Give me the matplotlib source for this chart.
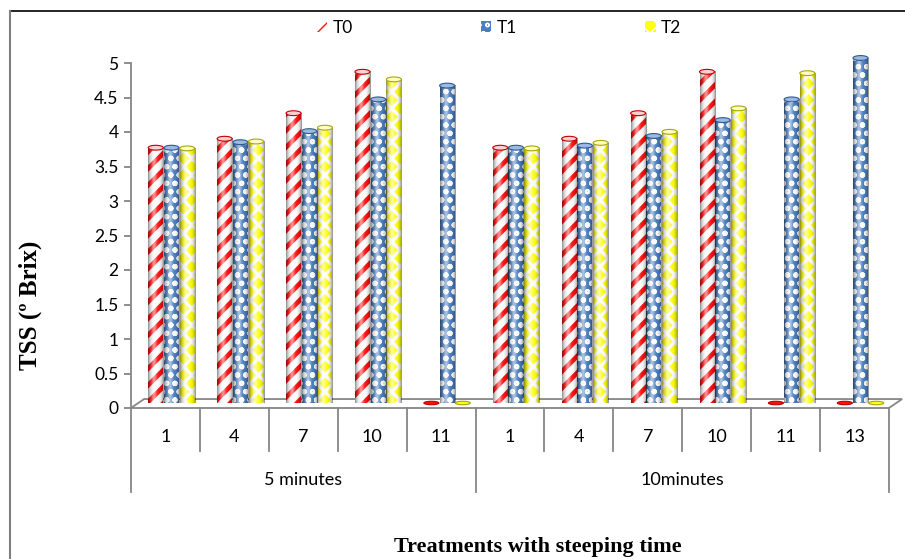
import numpy as np
import matplotlib
matplotlib.use('Agg')
import matplotlib.pyplot as plt
from matplotlib.patches import Ellipse, Patch, Polygon
from matplotlib.lines import Line2D
from matplotlib.transforms import offset_copy, blended_transform_factory

plt.rcParams['font.family'] = ['Lato', 'DejaVu Sans']

# TSS readings per treatment, grouped by steeping time
groups = ['5 minutes', '10minutes']
group_sizes = [5, 6]
days = ['1', '4', '7', '10', '11', '1', '4', '7', '10', '11', '13']
series = ['T0', 'T1', 'T2']
t0 = [3.70, 3.83, 4.20, 4.80, 0.0, 3.70, 3.83, 4.20, 4.80, 0.0, 0.0]
t1 = [3.70, 3.78, 3.94, 4.40, 4.60, 3.70, 3.73, 3.87, 4.10, 4.40, 5.00]
t2 = [3.69, 3.79, 3.99, 4.69, 0.0, 3.69, 3.77, 3.93, 4.27, 4.78, 0.0]
yticks = [0, 0.5, 1, 1.5, 2, 2.5, 3, 3.5, 4, 4.5, 5]

# bar styles: face, hatch colour, hatch, hatch width, top face, top edge
styles = [
    dict(face='white', hcol='#FF1010', hatch='//', hlw=3.4, top='#FFD0D0', tedge='#C00000'),
    dict(face='#4A7EC0', hcol='white', hatch='oo', hlw=1.5, top='#9DB9E0', tedge='#2E5A94'),
    dict(face='#FFFF10', hcol='white', hatch='xx', hlw=2.4, top='#FFFFC0', tedge='#A8A800'),
]

grey = '#868686'
fig = plt.figure(figsize=(9.05, 5.59), dpi=100)
ax = fig.add_axes([131 / 905, 151 / 559, 758 / 905, 345 / 559])
ax.set_xlim(0, 11)
ax.set_ylim(0, 5)

# bars stand a little behind the front edge of the floor
bar_tr = offset_copy(ax.transData, fig=fig, x=6, y=5, units='dots')

# cylinder shading: highlight left of centre, darker rims
xs = np.linspace(0, 1, 40)
hi = 0.55 * np.exp(-((xs - 0.38) / 0.17) ** 2)
dk = 0.45 * np.abs(2 * xs - 1) ** 3
shade = np.zeros((1, len(xs), 4))
tot = np.clip(hi + dk, 1e-6, None)
shade[0, :, 0] = hi / tot
shade[0, :, 1] = hi / tot
shade[0, :, 2] = hi / tot
shade[0, :, 3] = np.clip(hi + dk, 0, 1)

# floor of the 3D plot
floor = Polygon([(0, 0), (11, 0), (11.19, 0.13), (0.19, 0.13)], closed=True,
                facecolor='white', edgecolor=grey, lw=1.3, zorder=1, clip_on=False)
ax.add_patch(floor)

bw = 0.218
offs = [-0.228, 0.0, 0.228]
x = np.arange(len(days)) + 0.5
for vals, st, off in zip([t0, t1, t2], styles, offs):
    with plt.rc_context({'hatch.linewidth': st['hlw']}):
        bars = ax.bar(x + off, vals, width=bw, color=st['face'], edgecolor=st['hcol'],
                      hatch=st['hatch'], lw=0, transform=bar_tr, zorder=3, clip_on=False)
    for b, v in zip(bars, vals):
        if hasattr(b, 'set_hatch_linewidth'):
            b.set_hatch_linewidth(st['hlw'])
        x0 = b.get_x()
        if v > 0:
            ax.imshow(shade, extent=(x0, x0 + bw, 0, v), aspect='auto', transform=bar_tr,
                      interpolation='bilinear', zorder=4, clip_on=False)
        top = Ellipse((x0 + bw / 2, v), bw, 0.07 if v > 0 else 0.05,
                      facecolor=st['top'] if v > 0 else st['hcol'] if st['face'] == 'white' else st['face'],
                      edgecolor=st['tedge'], lw=0.8, transform=bar_tr, zorder=5, clip_on=False)
        ax.add_patch(top)

ax.set_xlim(0, 11)
ax.set_ylim(0, 5)

# value axis
for s in ['top', 'right', 'bottom']:
    ax.spines[s].set_visible(False)
ax.spines['left'].set_color(grey)
ax.spines['left'].set_linewidth(1.3)
ax.set_yticks(yticks)
ax.set_yticklabels(['%g' % t for t in yticks])
ax.tick_params(axis='y', direction='out', length=5, width=1.3, color=grey,
               labelsize=12.5, pad=4)
ax.set_xticks([])

# category axis with two label levels
ah = 345.0
tr = blended_transform_factory(ax.transData, ax.transAxes)
bounds = [0]
for n in group_sizes:
    bounds.append(bounds[-1] + n)
for k in range(len(days) + 1):
    depth = 84 if k in bounds else 43
    ax.add_line(Line2D([k, k], [0, -depth / ah], transform=tr, color=grey, lw=1.3,
                       clip_on=False))
for xi, lab in zip(x, days):
    ax.text(xi, -29 / ah, lab, transform=tr, ha='center', va='center', fontsize=13)
for g, lo, hi_ in zip(groups, bounds[:-1], bounds[1:]):
    ax.text((lo + hi_) / 2, -72 / ah, g, transform=tr, ha='center', va='center', fontsize=13)

# axis titles
fig.text(30 / 905, 1 - 305 / 559, 'TSS (º Brix)', rotation=90, ha='center', va='center',
         fontsize=18, fontweight='bold', family='Liberation Serif')
fig.text(538 / 905, 7 / 559, 'Treatments with steeping time', ha='center', va='baseline',
         fontsize=16, fontweight='bold', family='Liberation Serif')

# legend along the top
handles = []
for st in styles:
    with plt.rc_context({'hatch.linewidth': 1.5}):
        handles.append(Patch(facecolor=st['face'], edgecolor=st['hcol'], hatch=st['hatch'], lw=0))
fig.legend(handles, series, loc='center', bbox_to_anchor=(499 / 905, 1 - 28 / 559), ncol=3,
           frameon=False, fontsize=12.5, handlelength=0.6, handleheight=0.6,
           handletextpad=0.3, columnspacing=7.4)

# chart frame edges
fig.add_artist(Line2D([10 / 905, 1], [1 - 11 / 559] * 2, color='black', lw=1.2))
fig.add_artist(Line2D([10 / 905] * 2, [0, 1 - 11 / 559], color='#808080', lw=1.5))

fig.savefig('out.png', dpi=100)
